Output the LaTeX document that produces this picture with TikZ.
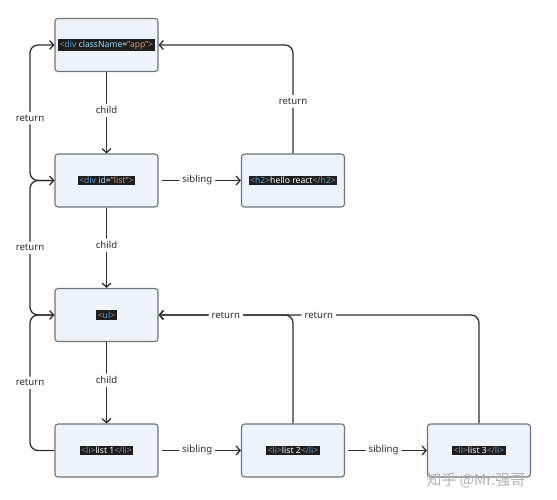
\documentclass[tikz,border=0pt]{standalone}
\usepackage{fontspec}
\setmainfont{Noto Sans}
\newfontfamily\cjkwm{Noto Sans CJK SC}
\usetikzlibrary{arrows.meta}
\definecolor{boxfill}{HTML}{EEF2FA}
\definecolor{boxline}{HTML}{6E737D}
\definecolor{linec}{HTML}{2E2E2E}
\definecolor{codebg}{HTML}{1E1E1E}
\definecolor{punc}{HTML}{8A8F98}
\definecolor{tagc}{HTML}{569CD6}
\definecolor{attrc}{HTML}{9CDCFE}
\definecolor{strc}{HTML}{CE9178}
\newcommand\cP[1]{\textcolor{punc}{#1}}
\newcommand\cT[1]{\textcolor{tagc}{#1}}
\newcommand\cA[1]{\textcolor{attrc}{#1}}
\newcommand\cS[1]{\textcolor{strc}{#1}}
\newcommand\cW[1]{\textcolor{white}{#1}}
\tikzset{
  x=1pt, y=-1pt,
  fnode/.style={draw=boxline, fill=boxfill, line width=1.1pt, rounded corners=3pt,
    minimum width=103pt, minimum height=53pt, inner sep=0pt},
  code/.style={fill=codebg, font=\fontsize{8.6}{9.5}\selectfont, inner sep=1.5pt, text=white},
  conn/.style={draw=linec, line width=1.3pt, rounded corners=8pt},
  arr/.style={conn, -{Straight Barb[length=4pt,width=9pt,line width=1.3pt]}},
  lbl/.style={fill=white, text=linec, font=\fontsize{9.6}{11}\selectfont, inner sep=3pt}
}
\begin{document}
\begin{tikzpicture}
\useasboundingbox (0,0) rectangle (557,500);
\coordinate (L) at (30,0);
% nodes
\node[fnode] (app) at (106.5,45) {};
\node[code] (tapp) at (app.center) {\cP{<}\cT{div} \cA{className}\cW{=}\cS{"app"}\cP{>}};
\node[fnode] (list) at (106.5,180.5) {};
\node[code] (tlist) at (list.center) {\cP{<}\cT{div} \cA{id}\cW{=}\cS{"list"}\cP{>}};
\node[fnode] (h2) at (293,180.5) {};
\node[code] (th2) at (h2.center) {\cP{<}\cT{h2}\cP{>}hello react\cP{</}\cT{h2}\cP{>}};
\node[fnode] (ul) at (106.5,315) {};
\node[code] (tul) at (ul.center) {\cP{<}\cT{ul}\cP{>}};
\node[fnode] (li1) at (106.5,450.5) {};
\node[code] (tli1) at (li1.center) {\cP{<}\cT{li}\cP{>}list 1\cP{</}\cT{li}\cP{>}};
\node[fnode] (li2) at (293,450.5) {};
\node[code] (tli2) at (li2.center) {\cP{<}\cT{li}\cP{>}list 2\cP{</}\cT{li}\cP{>}};
\node[fnode] (li3) at (479,450.5) {};
\node[code] (tli3) at (li3.center) {\cP{<}\cT{li}\cP{>}list 3\cP{</}\cT{li}\cP{>}};
% child arrows
\draw[arr] (app.south) -- node[lbl,pos=0.47]{child} (list.north);
\draw[arr] (list.south) -- node[lbl,pos=0.47]{child} (ul.north);
\draw[arr] (ul.south) -- node[lbl,pos=0.47]{child} (li1.north);
% sibling arrows
\draw[arr] ([xshift=3pt]list.east) -- node[lbl,pos=0.45]{sibling} (h2.west);
\draw[arr] ([xshift=3pt]li1.east) -- node[lbl,pos=0.45]{sibling} (li2.west);
\draw[arr] ([xshift=3pt]li2.east) -- node[lbl,pos=0.45]{sibling} (li3.west);
% left returns
\draw[arr] (li1.west) -- (li1.west -| L) |- node[lbl,pos=0.25]{return} (ul.west);
\draw[arr] (ul.west) -- (ul.west -| L) |- node[lbl,pos=0.25]{return} (list.west);
\draw[arr] (list.west) -- (list.west -| L) |- node[lbl,pos=0.23]{return} (app.west);
% right returns
\draw[arr] (h2.north) |- node[lbl,pos=0.24]{return} (app.east);
\draw[arr] (li3.north) |- node[lbl,pos=0.75]{return} (ul.east);
\draw[arr] (li2.north) |- node[lbl,pos=0.75]{return} (ul.east);
% watermark
\node[text=black!30, font=\cjkwm\fontsize{15}{16}\selectfont, anchor=center] (wm) at (476,480) {知乎 @Mr.强哥};
\end{tikzpicture}
\end{document}
